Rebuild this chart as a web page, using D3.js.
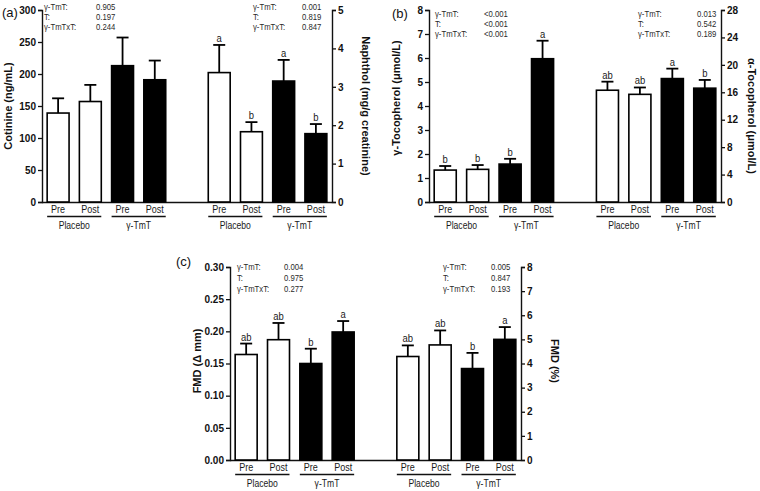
<!DOCTYPE html>
<html><head><meta charset="utf-8">
<script src="https://cdn.jsdelivr.net/npm/d3@7"></script>
<style>
body{margin:0;background:#fff;}
svg{font-family:"Liberation Sans",Arial,sans-serif;}
</style></head>
<body><svg id="c" width="760" height="491"></svg>
<script>
// ---------- data ----------
const timepoints = ["Pre","Post","Pre","Post"];
const treatments = ["Placebo","γ-TmT"];
const statLabels = ["γ-TmT:","T:","γ-TmTxT:"];

const cotinineMean = [139,157,213,191];
const cotinineSE   = [23,26,44,30];
const cotinineLetters = ["","","",""];
const cotinineStats = ["0.905","0.197","0.244"];
const cotinineTicks = [0,50,100,150,200,250,300];

const naphtholMean = [3.37,1.83,3.15,1.78];
const naphtholSE   = [0.72,0.25,0.55,0.25];
const naphtholLetters = ["a","b","a","b"];
const naphtholStats = ["0.001","0.819","0.847"];
const naphtholTicks = [0,1,2,3,4,5];

const gTocMean = [1.33,1.36,1.58,5.97];
const gTocSE   = [0.17,0.18,0.22,0.75];
const gTocLetters = ["b","b","b","a"];
const gTocStats = ["<0.001","<0.001","<0.001"];
const gTocTicks = [0,1,2,3,4,5,6,7,8];

const aTocMean = [16.3,15.7,18.0,16.6];
const aTocSE   = [1.25,1.0,1.45,1.2];
const aTocLetters = ["ab","ab","a","b"];
const aTocStats = ["0.013","0.542","0.189"];
const aTocTicks = [0,4,8,12,16,20,24,28];

const fmdMmMean = [0.164,0.187,0.150,0.199];
const fmdMmSE   = [0.017,0.026,0.023,0.017];
const fmdMmLetters = ["ab","ab","b","a"];
const fmdMmStats = ["0.004","0.975","0.277"];
const fmdMmTicks = [0,0.05,0.10,0.15,0.20,0.25,0.30];

const fmdPctMean = [4.29,4.77,3.79,5.0];
const fmdPctSE   = [0.46,0.60,0.65,0.51];
const fmdPctLetters = ["ab","ab","b","a"];
const fmdPctStats = ["0.005","0.847","0.193"];
const fmdPctTicks = [0,1,2,3,4,5,6,7,8];

// ---------- drawing ----------
const svg = d3.select("#c");
const SX = 0.86;

function sText(parent, x, y, size, str, anchor){
  return parent.append("text").attr("transform",`translate(${x},${y}) scale(${SX},1)`)
    .attr("text-anchor",anchor||"start").attr("font-size",size).attr("fill","#1a1a1a").text(str);
}

function panel(cfg){
  const g = svg.append("g");
  const x = d3.scaleBand().domain(d3.range(9)).range([cfg.x0,cfg.x1]).paddingInner(0.32).paddingOuter(0.16);
  const yL = d3.scaleLinear().domain([0,cfg.left.max]).range([cfg.yb,cfg.yt]);
  const yR = d3.scaleLinear().domain([0,cfg.right.max]).range([cfg.yb,cfg.yt]);

  g.append("line").attr("x1",cfg.x0).attr("x2",cfg.x1).attr("y1",cfg.yb+0.5).attr("y2",cfg.yb+0.5)
    .attr("stroke","#111").attr("stroke-width",1.4);

  const axL = g.append("g").attr("transform",`translate(${cfg.x0},0)`)
    .call(d3.axisLeft(yL).tickValues(cfg.left.ticks).tickSize(4).tickPadding(2).tickFormat(cfg.left.fmt));
  const axR = g.append("g").attr("transform",`translate(${cfg.x1},0)`)
    .call(d3.axisRight(yR).tickValues(cfg.right.ticks).tickSize(4).tickPadding(2).tickFormat(cfg.right.fmt));
  [axL,axR].forEach(a=>{
    a.select(".domain").attr("stroke","#111").attr("stroke-width",1.4);
    a.selectAll(".tick line").attr("stroke","#111").attr("stroke-width",1.3);
    a.selectAll(".tick text").attr("font-size",10).attr("font-weight","bold").attr("fill","#111")
      .attr("font-family","Liberation Sans, Arial, sans-serif");
  });

  function bars(side, offset, y){
    const mean = side.mean, se = side.se, letters = side.letters;
    const idx = d3.range(4).map(i=>i+offset);
    const bg = g.append("g");
    bg.selectAll("rect").data(mean).join("rect")
      .attr("x",(d,i)=>x(idx[i])).attr("width",x.bandwidth())
      .attr("y",d=>y(d)).attr("height",d=>y(0)-y(d))
      .attr("fill",(d,i)=>i<2?"#fff":"#000").attr("stroke","#000").attr("stroke-width",1.6);
    const cw = 6;
    mean.forEach((d,i)=>{
      const cx = x(idx[i])+x.bandwidth()/2;
      bg.append("line").attr("x1",cx).attr("x2",cx).attr("y1",y(d)).attr("y2",y(d+se[i]))
        .attr("stroke","#000").attr("stroke-width",1.8);
      bg.append("line").attr("x1",cx-cw).attr("x2",cx+cw).attr("y1",y(d+se[i])).attr("y2",y(d+se[i]))
        .attr("stroke","#000").attr("stroke-width",1.8);
      if(letters[i]) sText(bg, cx, y(d+se[i])-3, 11, letters[i], "middle");
      sText(bg, cx, cfg.yb+11, 10.5, timepoints[i], "middle");
    });
    treatments.forEach((t,k)=>{
      const xa = x(idx[2*k]), xb = x(idx[2*k+1])+x.bandwidth();
      bg.append("line").attr("x1",xa).attr("x2",xb).attr("y1",cfg.yb+14.5).attr("y2",cfg.yb+14.5)
        .attr("stroke","#111").attr("stroke-width",1.5);
      sText(bg, (xa+xb)/2, cfg.yb+27, 10, t, "middle");
    });
  }
  bars(cfg.left,0,yL);
  bars(cfg.right,5,yR);

  function stats(s, vals){
    statLabels.forEach((l,i)=>{
      sText(g, s.lx, s.y+i*s.dy, 9, l).attr("fill","#2a2a2a");
      sText(g, s.vx, s.y+i*s.dy, 9, vals[i]).attr("fill","#2a2a2a");
    });
  }
  stats(cfg.left.st, cfg.left.stats);
  stats(cfg.right.st, cfg.right.stats);

  g.append("text").attr("transform",`translate(${cfg.left.tx},${cfg.left.ty}) rotate(-90)`)
    .attr("text-anchor","middle").attr("font-size",11).attr("font-weight","bold").attr("fill","#111").text(cfg.left.title);
  g.append("text").attr("transform",`translate(${cfg.right.tx},${cfg.right.ty}) rotate(90)`)
    .attr("text-anchor","middle").attr("font-size",11).attr("font-weight","bold").attr("fill","#111").text(cfg.right.title);
  g.append("text").attr("x",cfg.lab.x).attr("y",cfg.lab.y).attr("font-size",13).attr("fill","#111").text(cfg.lab.t);
}

const f0 = d3.format("d"), f2 = d3.format(".2f");

panel({x0:42,x1:332,yt:10,yb:202,
  lab:{x:2,y:17,t:"(a)"},
  left:{max:300,ticks:cotinineTicks,fmt:f0,mean:cotinineMean,se:cotinineSE,letters:cotinineLetters,
    stats:cotinineStats,st:{lx:44,vx:96,y:9.5,dy:10.3},title:"Cotinine (ng/mL)",tx:12,ty:106},
  right:{max:5,ticks:naphtholTicks,fmt:f0,mean:naphtholMean,se:naphtholSE,letters:naphtholLetters,
    stats:naphtholStats,st:{lx:253,vx:302,y:9.5,dy:10.3},title:"Naphthol (mg/g creatinine)",tx:362,ty:106}
});

panel({x0:429,x1:721,yt:10,yb:202,
  lab:{x:392,y:18,t:"(b)"},
  left:{max:8,ticks:gTocTicks,fmt:f0,mean:gTocMean,se:gTocSE,letters:gTocLetters,
    stats:gTocStats,st:{lx:435,vx:484,y:16.8,dy:10},title:"γ-Tocopherol (μmol/L)",tx:400,ty:98},
  right:{max:28,ticks:aTocTicks,fmt:f0,mean:aTocMean,se:aTocSE,letters:aTocLetters,
    stats:aTocStats,st:{lx:638,vx:697,y:16.8,dy:10},title:"α-Tocopherol (μmol/L)",tx:748,ty:116}
});

panel({x0:230,x1:521,yt:267,yb:460,
  lab:{x:176,y:266,t:"(c)"},
  left:{max:0.30,ticks:fmdMmTicks,fmt:f2,mean:fmdMmMean,se:fmdMmSE,letters:fmdMmLetters,
    stats:fmdMmStats,st:{lx:237,vx:284,y:270,dy:11.2},title:"FMD (Δ mm)",tx:201,ty:361},
  right:{max:8,ticks:fmdPctTicks,fmt:f0,mean:fmdPctMean,se:fmdPctSE,letters:fmdPctLetters,
    stats:fmdPctStats,st:{lx:443,vx:491,y:270,dy:11.2},title:"FMD (%)",tx:551,ty:361}
});
</script></body></html>
